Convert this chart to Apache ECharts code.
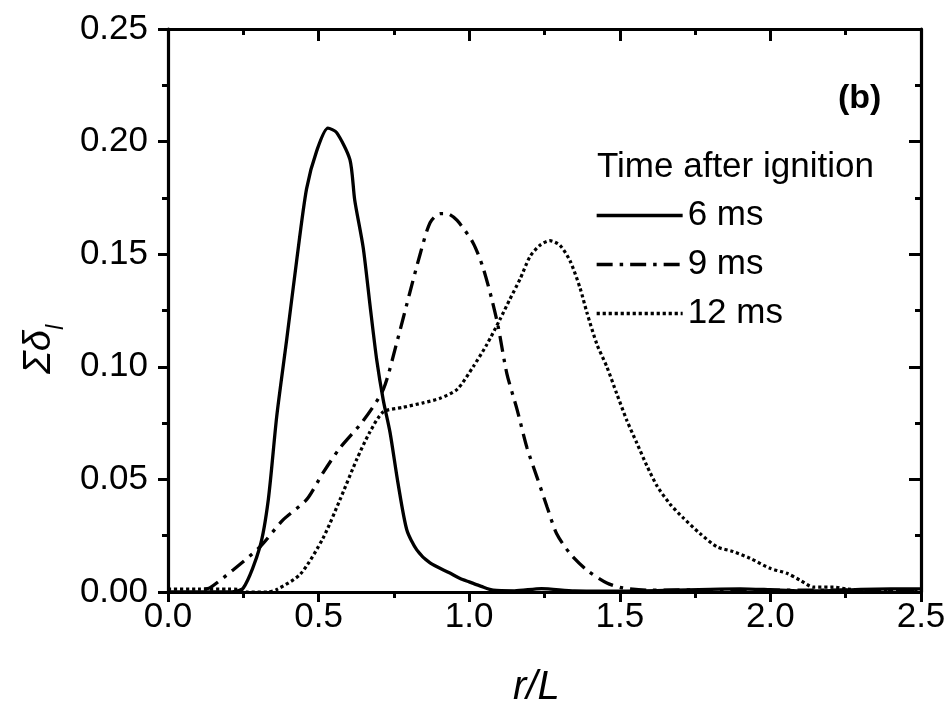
<!DOCTYPE html>
<html>
<head>
<meta charset="utf-8">
<script src="https://cdn.jsdelivr.net/npm/echarts@6/dist/echarts.min.js"></script>
<style>html,body{margin:0;padding:0;background:#fff}#c{width:952px;height:716px}</style>
</head>
<body>
<div id="c"></div>
<script>
// ---- data ----
var xTickLabels = ['0.0', '0.5', '1.0', '1.5', '2.0', '2.5'];
var yTickLabels = ['0.00', '0.05', '0.10', '0.15', '0.20', '0.25'];
var seriesNames = ['6 ms', '9 ms', '12 ms'];

var r6 = [0, 0.1, 0.2, 0.25, 0.305, 0.333, 0.361, 0.394, 0.427, 0.46, 0.494, 0.531, 0.56, 0.604, 0.62, 0.648, 0.671, 0.693, 0.715, 0.737, 0.764, 0.793, 0.826, 0.87, 0.936, 0.97, 1.0, 1.04, 1.08, 1.15, 1.24, 1.35, 1.5, 1.65, 1.8, 1.9, 2.0, 2.1, 2.2, 2.3, 2.4, 2.5];
var v6 = [0, 0, 0, 0.0018, 0.020, 0.041, 0.078, 0.112, 0.147, 0.179, 0.196, 0.206, 0.204, 0.192, 0.174, 0.153, 0.127, 0.103, 0.085, 0.071, 0.048, 0.0275, 0.0187, 0.0129, 0.0084, 0.006, 0.0045, 0.0025, 0.0008, 0.0005, 0.0015, 0.0005, 0.0004, 0.0007, 0.0012, 0.0014, 0.0010, 0.0005, 0.0006, 0.0012, 0.0014, 0.0014];

var r9 = [0.12, 0.139, 0.216, 0.305, 0.382, 0.46, 0.515, 0.571, 0.648, 0.715, 0.76, 0.803, 0.837, 0.87, 0.903, 0.926, 0.96, 1.013, 1.046, 1.075, 1.096, 1.125, 1.159, 1.192, 1.225, 1.258, 1.29, 1.335, 1.39, 1.457, 1.51, 1.6, 1.8, 2.0, 2.2, 2.5];
var v9 = [0.0013, 0.0018, 0.0098, 0.020, 0.032, 0.041, 0.053, 0.064, 0.076, 0.090, 0.111, 0.133, 0.150, 0.164, 0.168, 0.168, 0.165, 0.155, 0.144, 0.130, 0.118, 0.097, 0.081, 0.064, 0.051, 0.038, 0.026, 0.017, 0.0098, 0.004, 0.0018, 0.0008, 0.001, 0.0008, 0.0008, 0.001];

var r12 = [0, 0.1, 0.2, 0.23, 0.26, 0.33, 0.36, 0.44, 0.515, 0.571, 0.627, 0.67, 0.715, 0.78, 0.847, 0.903, 0.96, 1.013, 1.059, 1.102, 1.135, 1.169, 1.202, 1.235, 1.268, 1.301, 1.335, 1.368, 1.391, 1.424, 1.457, 1.49, 1.524, 1.557, 1.59, 1.624, 1.667, 1.71, 1.766, 1.823, 1.876, 1.932, 1.999, 2.055, 2.098, 2.142, 2.21, 2.255, 2.35, 2.5];
var v12 = [0.0013, 0.0013, 0.0013, 0.0012, 0, 0, 0.001, 0.008, 0.024, 0.041, 0.059, 0.071, 0.080, 0.082, 0.084, 0.086, 0.090, 0.100, 0.110, 0.121, 0.130, 0.139, 0.149, 0.154, 0.156, 0.154, 0.147, 0.135, 0.124, 0.110, 0.100, 0.088, 0.076, 0.066, 0.056, 0.047, 0.039, 0.033, 0.026, 0.020, 0.018, 0.015, 0.0105, 0.0083, 0.0053, 0.0022, 0.0022, 0.0013, 0.0008, 0.0008];

function pairs(xs, ys) { return xs.map(function (x, i) { return [x, ys[i]]; }); }

var FONT = '"Liberation Sans", Arial, sans-serif';
var chart = echarts.init(document.getElementById('c'), null, { renderer: 'canvas' });

function axisCommon(extra) {
  var base = {
    type: 'value',
    axisLine: { show: true, onZero: false, lineStyle: { color: '#000', width: 3.2 } },
    splitLine: { show: false },
    minorSplitLine: { show: false }
  };
  for (var k in extra) base[k] = extra[k];
  return base;
}

var lineBase = { color: '#000', width: 3.3, cap: 'butt' };

chart.setOption({
  animation: false,
  backgroundColor: '#fff',
  grid: { left: 168, right: 31, top: 29, bottom: 124, containLabel: false },
  xAxis: [
    axisCommon({
      min: 0, max: 2.5, interval: 0.5, position: 'bottom',
      axisTick: { show: true, inside: false, length: 10, lineStyle: { color: '#000', width: 3 } },
      minorTick: { show: true, splitNumber: 2, length: 6, lineStyle: { color: '#000', width: 3 } },
      axisLabel: { fontSize: 35, color: '#000', fontFamily: FONT, margin: 8,
        formatter: function (v) { return xTickLabels[Math.round(v / 0.5)]; } }
    }),
    axisCommon({
      min: 0, max: 2.5, interval: 0.5, position: 'top',
      axisTick: { show: true, inside: true, length: 12, lineStyle: { color: '#000', width: 3 } },
      minorTick: { show: true, splitNumber: 2, length: 6, lineStyle: { color: '#000', width: 3 } },
      axisLabel: { show: false }
    })
  ],
  yAxis: [
    axisCommon({
      min: 0, max: 0.25, interval: 0.05, position: 'left',
      axisTick: { show: true, inside: false, length: 10, lineStyle: { color: '#000', width: 3 } },
      minorTick: { show: true, splitNumber: 2, length: 6, lineStyle: { color: '#000', width: 3 } },
      axisLabel: { fontSize: 35, color: '#000', fontFamily: FONT, margin: 20,
        formatter: function (v) { return yTickLabels[Math.round(v / 0.05)]; } }
    }),
    axisCommon({
      min: 0, max: 0.25, interval: 0.05, position: 'right',
      axisTick: { show: true, inside: true, length: 12, lineStyle: { color: '#000', width: 3 } },
      minorTick: { show: true, splitNumber: 2, length: 6, lineStyle: { color: '#000', width: 3 } },
      axisLabel: { show: false }
    })
  ],
  legend: {
    orient: 'vertical', left: 590, top: 193,
    itemWidth: 86, itemHeight: 14, itemGap: 14,
    data: seriesNames,
    itemStyle: { opacity: 0 },
    lineStyle: { width: 3.3 },
    textStyle: { fontSize: 35, color: '#000', fontFamily: FONT, lineHeight: 30 }
  },
  graphic: [
    { type: 'text', left: 597, top: 150, style: { text: 'Time after ignition', font: '35px ' + FONT, fill: '#000' } },
    { type: 'text', left: 838, top: 82, style: { text: '(b)', font: 'bold 34px ' + FONT, fill: '#000' } },
    { type: 'text', left: 513, top: 668, style: { text: 'r/L', font: 'italic 40px ' + FONT, fill: '#000' } },
    { type: 'text', x: 14, y: 374, rotation: Math.PI / 2,
      style: { text: '{a|Σδ}{b|l}', fill: '#000',
        rich: {
          a: { fontSize: 38, fontStyle: 'italic', fontFamily: FONT, fill: '#000', lineHeight: 44, verticalAlign: 'bottom' },
          b: { fontSize: 24, fontStyle: 'italic', fontFamily: FONT, fill: '#000', lineHeight: 44, verticalAlign: 'bottom', padding: [0, 0, -10, 0] }
        } } }
  ],
  series: [
    { name: seriesNames[0], type: 'line', data: pairs(r6, v6), showSymbol: false, symbol: 'none', smooth: 0.25,
      lineStyle: Object.assign({}, lineBase, { type: 'solid' }), itemStyle: { color: '#000' }, z: 3 },
    { name: seriesNames[1], type: 'line', data: pairs(r9, v9), showSymbol: false, symbol: 'none', smooth: 0.25,
      lineStyle: Object.assign({}, lineBase, { type: [16, 7, 3.5, 7] }), itemStyle: { color: '#000' }, z: 2 },
    { name: seriesNames[2], type: 'line', data: pairs(r12, v12), showSymbol: false, symbol: 'none', smooth: 0.25,
      lineStyle: Object.assign({}, lineBase, { type: [3.2, 2.8], width: 3.2 }), itemStyle: { color: '#000' }, z: 2 }
  ]
});
</script>
</body>
</html>
